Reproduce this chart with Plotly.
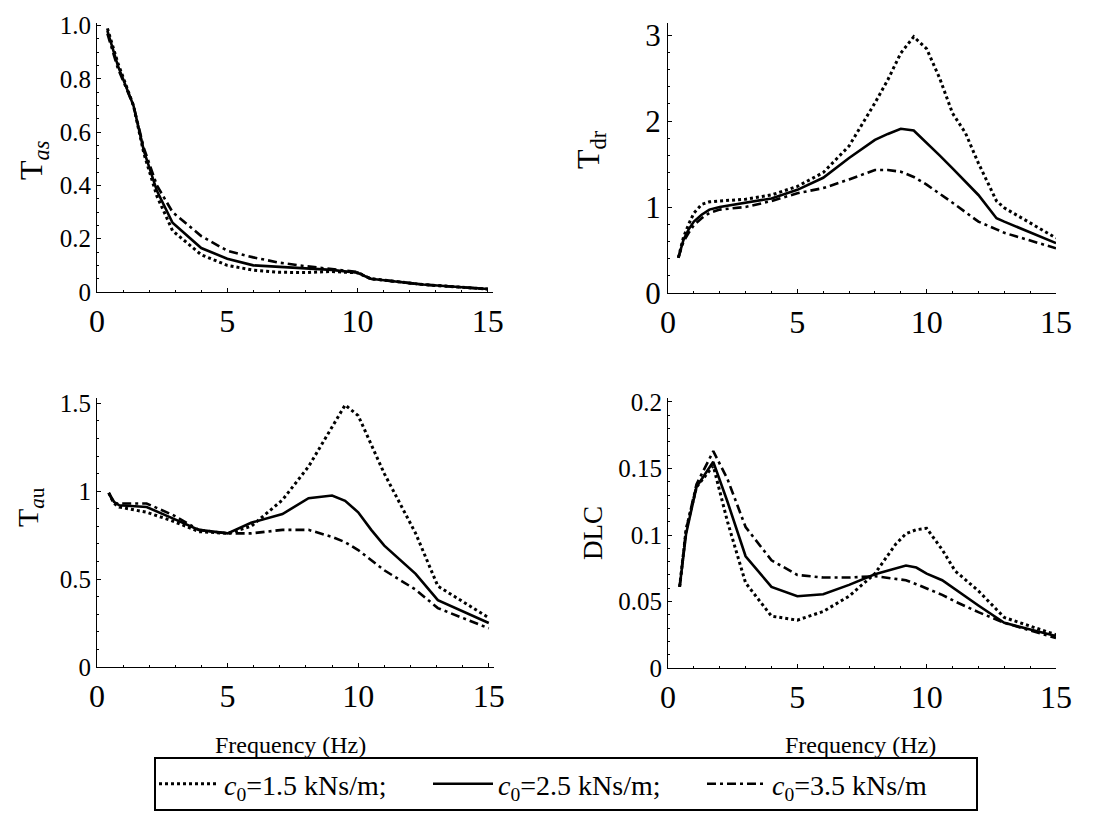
import plotly.graph_objects as go

# ---------------- data ----------------
series_names = ["<i>c</i><sub>0</sub>=1.5 kNs/m;",
                "<i>c</i><sub>0</sub>=2.5 kNs/m;",
                "<i>c</i><sub>0</sub>=3.5 kNs/m"]

# T_as panel
f_as = [0.4, 0.8, 1.4, 1.8, 2.3, 2.9, 4.0, 5.0, 6.0, 7.0, 8.0, 9.0, 10.0, 10.5, 12.5, 15.0]
tas_15 = [0.99, 0.86, 0.70, 0.52, 0.36, 0.23, 0.14, 0.10, 0.082, 0.074, 0.073, 0.077, 0.072, 0.05, 0.028, 0.011]
tas_25 = [0.98, 0.85, 0.70, 0.53, 0.38, 0.26, 0.165, 0.125, 0.10, 0.095, 0.09, 0.083, 0.072, 0.05, 0.028, 0.011]
tas_35 = [0.97, 0.84, 0.70, 0.54, 0.40, 0.30, 0.21, 0.155, 0.13, 0.11, 0.097, 0.085, 0.075, 0.05, 0.028, 0.011]

# T_dr panel
f_dr = [0.4, 0.6, 0.8, 1.0, 1.3, 1.6, 2.0, 3.0, 4.0, 5.0, 6.0, 7.0, 8.0, 8.5, 9.0, 9.5,
        10.0, 10.5, 11.0, 11.5, 12.0, 12.7, 13.0, 15.0]
tdr_15 = [0.41, 0.65, 0.80, 0.93, 1.03, 1.06, 1.07, 1.09, 1.14, 1.24, 1.40, 1.71, 2.21, 2.48,
          2.79, 2.98, 2.84, 2.50, 2.09, 1.86, 1.51, 1.07, 0.99, 0.64]
tdr_25 = [0.41, 0.62, 0.74, 0.83, 0.91, 0.97, 1.0, 1.05, 1.1, 1.2, 1.34, 1.57, 1.78, 1.85,
          1.91, 1.89, 1.75, 1.60, 1.45, 1.30, 1.14, 0.87, 0.83, 0.58]
tdr_35 = [0.41, 0.60, 0.70, 0.79, 0.87, 0.93, 0.97, 1.0, 1.07, 1.16, 1.22, 1.32, 1.43, 1.43,
          1.41, 1.35, 1.26, 1.16, 1.05, 0.94, 0.83, 0.74, 0.70, 0.52]

# T_au panel
f_au = [0.45, 0.65, 0.85, 1.9, 2.9, 3.9, 5.0, 5.9, 7.1, 8.1, 9.0, 9.5, 10.0, 10.5, 11.0, 12.2, 13.05, 15.0]
tau_15 = [0.99, 0.93, 0.91, 0.88, 0.83, 0.77, 0.76, 0.80, 0.95, 1.14, 1.365, 1.49, 1.43, 1.27, 1.10, 0.76, 0.46, 0.28]
tau_25 = [0.99, 0.94, 0.92, 0.91, 0.845, 0.78, 0.76, 0.82, 0.87, 0.96, 0.975, 0.945, 0.88, 0.78, 0.69, 0.53, 0.38, 0.25]
tau_35 = [0.99, 0.93, 0.93, 0.93, 0.865, 0.78, 0.76, 0.76, 0.78, 0.78, 0.74, 0.71, 0.665, 0.61, 0.55, 0.44, 0.335, 0.22]

# DLC panel
f_dlc = [0.45, 0.7, 1.1, 1.75, 2.3, 3.0, 4.0, 5.0, 6.0, 7.0, 8.0, 8.8, 9.2, 9.6, 10.0, 10.6, 11.1, 12.0, 13.0, 15.0]
dlc_15 = [0.061, 0.104, 0.136, 0.152, 0.110, 0.064, 0.039, 0.036, 0.0425, 0.054, 0.071, 0.093,
          0.101, 0.104, 0.105, 0.089, 0.073, 0.058, 0.038, 0.025]
dlc_25 = [0.061, 0.101, 0.136, 0.155, 0.125, 0.084, 0.061, 0.054, 0.0555, 0.0625, 0.0705, 0.075,
          0.077, 0.0755, 0.071, 0.066, 0.059, 0.047, 0.034, 0.024]
dlc_35 = [0.061, 0.104, 0.138, 0.163, 0.142, 0.106, 0.081, 0.07, 0.068, 0.068, 0.069, 0.067,
          0.066, 0.063, 0.06, 0.055, 0.05, 0.042, 0.034, 0.0225]

x_ticks = [0, 5, 10, 15]
as_ticks = [0, 0.2, 0.4, 0.6, 0.8, 1.0]
as_labels = ["0", "0.2", "0.4", "0.6", "0.8", "1.0"]
dr_ticks = [0, 1, 2, 3]
dr_labels = ["0", "1", "2", "3"]
au_ticks = [0, 0.5, 1, 1.5]
au_labels = ["0", "0.5", "1", "1.5"]
dlc_ticks = [0, 0.05, 0.1, 0.15, 0.2]
dlc_labels = ["0", "0.05", "0.1", "0.15", "0.2"]

# ---------------- figure ----------------
FONT = "Liberation Serif"
W, H = 1096, 827

styles = [dict(color="black", width=3, dash="3px,3px"),
          dict(color="black", width=2.6, dash="solid"),
          dict(color="black", width=2.6, dash="9px,4px,3px,4px")]

fig = go.Figure()

panels = [
    ("x", "y", f_as, [tas_15, tas_25, tas_35]),
    ("x2", "y2", f_dr, [tdr_15, tdr_25, tdr_35]),
    ("x3", "y3", f_au, [tau_15, tau_25, tau_35]),
    ("x4", "y4", f_dlc, [dlc_15, dlc_25, dlc_35]),
]

for pi, (xa, ya, fx, ys) in enumerate(panels):
    for si, yv in enumerate(ys):
        fig.add_trace(go.Scatter(
            x=fx, y=yv, mode="lines", xaxis=xa, yaxis=ya,
            line=styles[si], name=series_names[si],
            showlegend=(pi == 0), legendgroup=str(si)))

def px_dom_x(a, b):
    return [a / W, b / W]

def px_dom_y(top, bottom):
    return [1 - bottom / H, 1 - top / H]

def axis(size, **kw):
    d = dict(showline=True, linecolor="black", linewidth=1.2, showgrid=False,
             zeroline=False, ticks="inside", ticklen=4, tickcolor="black",
             automargin=False,
             tickfont=dict(family=FONT, size=size, color="black"),
             minor=dict(ticks="inside", ticklen=2, tickcolor="black"))
    d.update(kw)
    return d

fig.update_layout(
    width=W, height=H, margin=dict(l=0, r=0, t=0, b=0, autoexpand=False),
    paper_bgcolor="white", plot_bgcolor="white",
    font=dict(family=FONT, color="black"),
    xaxis=axis(32, domain=px_dom_x(97, 493), range=[0, 15.2], anchor="y", tickvals=x_ticks),
    yaxis=axis(25, domain=px_dom_y(23, 292), range=[0, 1.01], anchor="x",
               tickvals=as_ticks, ticktext=as_labels),
    xaxis2=axis(32, domain=px_dom_x(668, 1056), range=[0, 15.0], anchor="y2", tickvals=x_ticks),
    yaxis2=axis(31, domain=px_dom_y(23, 293), range=[0, 3.14], anchor="x2",
                tickvals=dr_ticks, ticktext=dr_labels),
    xaxis3=axis(32, domain=px_dom_x(97, 494), range=[0, 15.2], anchor="y3", tickvals=x_ticks),
    yaxis3=axis(25, domain=px_dom_y(398, 667), range=[0, 1.53], anchor="x3",
                tickvals=au_ticks, ticktext=au_labels),
    xaxis4=axis(32, domain=px_dom_x(668, 1056), range=[0, 15.0], anchor="y4", tickvals=x_ticks),
    yaxis4=axis(25, domain=px_dom_y(398, 668), range=[0, 0.203], anchor="x4",
                tickvals=dlc_ticks, ticktext=dlc_labels),
    legend=dict(orientation="h", x=566 / W, xanchor="center", y=1 - 757 / H, yanchor="top",
                bordercolor="black", borderwidth=2, bgcolor="white",
                font=dict(family=FONT, size=28, color="black"),
                entrywidth=199, entrywidthmode="pixels",
                itemwidth=60, tracegroupgap=0),
    showlegend=True,
)

titles = [
    ("T<sub><i>as</i></sub>", 33, 160, 32),
    ("T<sub>dr</sub>", 590, 150, 32),
    ("T<sub><i>a</i>u</sub>", 30, 507, 30),
    ("DLC", 593, 533, 27),
]
for txt, px, py, sz in titles:
    fig.add_annotation(text=txt, x=px / W, y=1 - py / H, xref="paper", yref="paper",
                       showarrow=False, textangle=-90,
                       font=dict(family=FONT, size=sz, color="black"),
                       xanchor="center", yanchor="middle")

for px in (290, 860):
    fig.add_annotation(text="Frequency (Hz)", x=px / W, y=1 - 745 / H,
                       xref="paper", yref="paper", showarrow=False,
                       font=dict(family=FONT, size=24, color="black"),
                       xanchor="center", yanchor="middle")

fig.write_html("out.html")
